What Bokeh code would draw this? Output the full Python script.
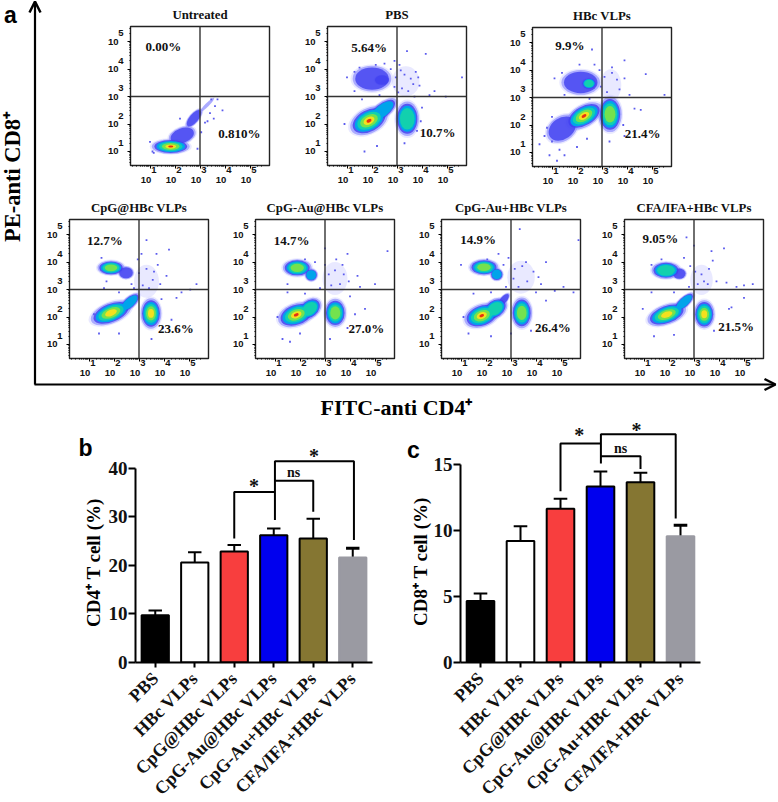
from math import pi, radians, log10
from bokeh.embed import file_html
from bokeh.models import Arrow, Column, FixedTicker, OpenHead, Range1d, Span
from bokeh.plotting import figure
from bokeh.resources import INLINE
from bokeh.core.properties import value

SERIF = "Liberation Serif"
SANS = "Liberation Sans"

# ---- flow-cytometry panels -------------------------------------------------
panel_names = ["Untreated", "PBS", "HBc VLPs", "CpG@HBc VLPs", "CpG-Au@HBc VLPs", "CpG-Au+HBc VLPs", "CFA/IFA+HBc VLPs"]
panel_frames = [(130, 25), (327, 25), (532, 26), (69, 218), (255, 218), (441, 218), (624, 218)]
upper_left_pct = ["0.00%", "5.64%", "9.9%", "12.7%", "14.7%", "14.9%", "9.05%"]
lower_right_pct = ["0.810%", "10.7%", "21.4%", "23.6%", "27.0%", "26.4%", "21.5%"]
upper_left_pos = [(1.53, 4.84), (1.88, 4.78), (1.71, 4.88), (1.63, 4.77), (1.66, 4.78), (1.68, 4.82), (1.65, 4.85)]
lower_right_pos = [(4.57, 1.64), (4.62, 1.69), (4.62, 1.68), (4.47, 1.57), (4.65, 1.59), (4.67, 1.63), (4.68, 1.64)]

# density blobs: log10 x, log10 y, semi-axis a, semi-axis b, angle, peak colour level
untreated_blobs = [(1.83, 1.18, .84, .30, 0, 7), (2.29, 1.58, .62, .34, 20, 2), (2.76, 2.21, .52, .20, 50, 2), (3.29, 2.70, .42, .07, 45, 1)]
pbs_blobs = [(2.0, 3.65, .86, .52, 0, 2), (2.4, 3.6, .36, .22, 0, 2), (3.35, 3.55, .55, .55, 0, 0), (2.40, 2.48, .80, .32, 38, 3),
             (1.88, 2.12, .90, .50, 28, 7), (3.41, 2.19, .52, .70, 0, 4)]
hbc_blobs = [(2.15, 3.55, .86, .50, 0, 2), (2.48, 3.51, .34, .24, 0, 4), (3.35, 3.45, .42, .58, 0, 0), (1.41, 1.87, .76, .50, 35, 2),
             (2.28, 2.33, .88, .44, 30, 7), (3.32, 2.39, .52, .72, 0, 5)]
cpg_blobs = [(1.88, 3.79, .60, .30, 0, 5), (2.48, 3.61, .35, .26, 0, 2), (3.3, 3.3, .5, .6, 0, 0), (2.62, 2.52, .58, .24, 42, 3),
             (1.88, 2.15, .95, .42, 22, 6), (3.48, 2.13, .46, .62, 0, 6)]
au_at_blobs = [(1.89, 3.79, .64, .35, 0, 5), (2.45, 3.53, .29, .26, 0, 3), (3.4, 3.4, .5, .6, 0, 0), (2.39, 2.30, .58, .38, 40, 4),
               (1.85, 2.08, .84, .46, 20, 7), (3.41, 2.15, .48, .57, 0, 5)]
au_plus_blobs = [(1.92, 3.81, .64, .33, 0, 5), (2.43, 3.55, .29, .26, 0, 3), (3.4, 3.45, .55, .6, 0, 0), (2.70, 2.62, .38, .15, 50, 2),
                 (2.36, 2.30, .60, .38, 35, 4), (1.83, 2.05, .80, .46, 20, 7), (3.43, 2.15, .46, .62, 0, 5)]
cfa_blobs = [(1.88, 3.70, .64, .35, 0, 4), (2.41, 3.58, .32, .24, 0, 2), (3.3, 3.35, .45, .55, 0, 0), (2.60, 2.54, .58, .22, 42, 3),
             (1.91, 2.09, .90, .40, 20, 6), (3.41, 2.10, .46, .57, 0, 6)]
panel_blobs = [untreated_blobs, pbs_blobs, hbc_blobs, cpg_blobs, au_at_blobs, au_plus_blobs, cfa_blobs]

# scattered events (log10 x, log10 y)
untreated_dots = [(3.4, 2.4), (3.7, 2.9), (3.9, 2.5), (3.55, 2.2), (3.2, 2.05), (1.1, 1.0), (2.9, 1.1), (3.05, 1.7), (3.6, 2.65), (2.2, 2.2), (3.45, 2.9), (3.3, 2.1), (1.0, 1.35), (1.15, 0.95)]
pbs_dots = [(3.4, 4.65), (4.15, 4.55), (4.5, 3.2), (5.6, 3.7), (4.95, 3.0), (3.9, 3.4), (3.75, 3.9), (2.9, 4.3), (2.5, 4.2), (1.3, 3.9), (1.0, 3.7),
            (3.1, 4.15), (4.0, 2.6), (3.95, 2.1), (3.8, 1.75), (3.3, 1.3), (2.2, 1.2), (1.7, 1.0), (0.9, 2.0), (4.3, 3.05), (1.3, 3.2), (1.6, 2.9), (2.3, 3.05), (3.7, 3.0),
            (2.95, 3.7), (3.15, 3.95), (3.3, 3.8), (3.55, 3.65), (3.2, 3.3), (3.45, 3.2), (3.65, 3.45), (3.05, 3.15), (2.9, 3.35), (3.85, 3.7), (1.5, 4.05), (2.15, 4.15), (2.75, 4.0)]
hbc_dots = [(2.6, 4.75), (3.9, 4.35), (4.75, 3.85), (5.5, 3.1), (4.3, 2.6), (4.55, 2.55), (3.9, 3.7), (3.4, 4.1), (2.7, 4.2), (1.1, 3.7), (1.5, 3.1), (0.5, 1.3), (0.9, 0.9),
            (1.0, 1.4), (1.3, 1.1), (1.5, 0.9), (2.0, 1.2), (3.9, 1.6), (3.3, 1.4), (0.8, 1.9), (1.0, 2.3), (3.85, 2.0), (4.1, 3.1), (2.5, 2.95),
            (3.1, 3.75), (3.4, 3.9), (3.6, 3.65), (3.2, 3.2), (2.95, 3.4), (3.7, 3.3), (2.9, 4.0), (2.1, 4.2), (1.4, 3.9), (0.7, 1.6), (1.2, 0.7), (2.4, 1.5)]
cpg_dots = [(3.3, 4.8), (4.2, 4.45), (5.3, 3.2), (5.05, 3.0), (4.7, 2.9), (4.1, 3.5), (3.7, 4.3), (2.95, 4.1), (3.1, 4.3), (1.6, 3.05), (2.2, 2.9), (3.9, 2.65),
            (4.5, 2.7), (4.3, 1.9), (3.5, 1.2), (2.2, 1.4), (1.4, 1.4), (1.2, 2.1), (3.95, 1.6), (3.6, 3.65), (2.8, 3.05),
            (3.0, 3.6), (3.3, 3.75), (3.55, 3.35), (3.85, 3.2), (3.15, 3.15), (3.4, 3.05), (3.75, 3.9), (1.7, 3.3), (2.7, 3.2), (1.5, 4.15)]
au_at_dots = [(3.45, 4.1), (3.7, 3.9), (4.4, 3.1), (5.0, 3.2), (5.5, 4.4), (4.3, 3.5), (4.0, 2.75), (4.2, 2.1), (3.2, 1.2), (1.3, 1.2), (2.0, 1.4), (1.5, 2.9), (2.2, 2.85),
              (2.8, 3.05), (2.6, 4.0), (3.0, 3.9), (1.1, 2.0), (4.6, 2.3), (3.9, 1.6), (3.9, 4.3), (1.6, 1.1), (3.0, 4.5),
              (3.15, 3.55), (3.4, 3.7), (3.75, 3.55), (3.95, 3.3), (3.6, 3.2), (3.25, 3.15), (2.2, 4.1), (1.5, 3.2)]
au_plus_dots = [(3.35, 5.2), (2.5, 4.3), (2.7, 3.9), (3.6, 4.0), (4.4, 4.0), (4.2, 3.2), (5.1, 3.1), (5.5, 2.9), (4.4, 2.6), (4.0, 2.9), (3.8, 1.5), (3.0, 1.4), (2.2, 1.3),
                (1.3, 1.4), (1.1, 2.0), (1.5, 2.85), (2.2, 2.9), (2.8, 3.1), (1.0, 3.9), (5.7, 4.8), (4.75, 2.95), (3.1, 3.4),
                (3.15, 3.75), (3.45, 3.85), (3.9, 3.65), (4.1, 3.45), (3.65, 3.3), (3.3, 3.1), (2.9, 4.15), (2.05, 4.1)]
cfa_dots = [(2.7, 4.9), (3.0, 4.6), (3.7, 4.4), (3.75, 4.05), (4.2, 4.5), (4.3, 3.25), (5.35, 3.2), (5.0, 2.7), (4.4, 2.3), (3.8, 1.5), (2.2, 1.35), (1.4, 1.3), (0.95, 2.3),
            (1.3, 2.9), (2.2, 2.9), (2.8, 3.1), (3.4, 3.3), (3.9, 3.3), (1.3, 3.9), (4.7, 3.1), (5.0, 3.15), (4.5, 2.35),
            (3.05, 3.65), (3.3, 3.55), (3.6, 3.75), (3.55, 3.2), (3.15, 3.2), (2.6, 4.15), (1.7, 4.1), (2.85, 3.85)]
panel_dots = [untreated_dots, pbs_dots, hbc_dots, cpg_dots, au_at_dots, au_plus_dots, cfa_dots]

decades = [1, 2, 3, 4, 5]
decade_labels = {d: "10\u00a0\u00a0\u00a0" for d in decades}
level_colors = ["#cfcfff", "#9090ff", "#4040f0", "#00a4ea", "#12d0ae", "#74e24e", "#f4e01e", "#e63010"]
level_alpha = [0.45, 0.7, 0.8, 1, 1, 1, 1, 1]
level_scale = [1.0, .90, .78, .68, .56, .42, .26, .12]

# ---- bar charts ------------------------------------------------------------
categories = ["PBS", "HBc VLPs", "CpG@HBc VLPs", "CpG-Au@HBc VLPs", "CpG-Au+HBc VLPs", "CFA/IFA+HBc VLPs"]
bar_colors = ["#000000", "#ffffff", "#f83e3e", "#0000ee", "#857632", "#9a9aa2"]
bar_lines = ["#000000", "#000000", "#000000", "#000000", "#000000", "#9a9aa2"]
cd4_values = [9.7, 20.6, 22.85, 26.2, 25.5, 21.6]
cd4_errors = [10.7, 22.7, 24.2, 27.6, 29.6, 23.5]
cd8_values = [4.65, 9.2, 11.64, 13.33, 13.66, 9.57]
cd8_errors = [5.23, 10.33, 12.4, 14.47, 14.37, 10.4]
cd4_brackets_x = [[3.03, 3.03, 5.03, 5.03], [3.03, 4.0, 4.0], [2.0, 2.0, 3.03]]
cd4_brackets_y = [[29.3, 41.4, 41.4, 25.2], [37.4, 37.4, 31.0], [25.5, 35.1, 35.1]]
cd4_marks = [("*", 4.02, 42.4), ("ns", 3.5, 39.0), ("*", 2.5, 36.3)]
cd8_brackets_x = [[3.01, 3.01, 4.88, 4.88], [3.01, 4.0, 4.0], [2.0, 2.0, 3.01]]
cd8_brackets_y = [[15.08, 17.3, 17.3, 10.9], [15.63, 15.63, 14.65], [12.98, 16.6, 16.6]]
cd8_marks = [("*", 3.9, 17.65), ("ns", 3.5, 16.2), ("*", 2.47, 17.2)]


def pct_text(p, pos, txt):
    p.text([pos[0]], [pos[1]], text=[txt], text_font=value(SERIF), text_font_style="bold",
           text_font_size="13px", text_align="center", text_baseline="middle", text_color="#111111")


def flow_panel(i):
    left, top = panel_frames[i]
    p = figure(title=panel_names[i], frame_width=139, frame_height=139, x_range=Range1d(0.22, 5.78), y_range=Range1d(0.49, 5.55),
               toolbar_location=None, output_backend="svg", min_border_left=40, min_border_right=4, min_border_top=24, min_border_bottom=30,
               border_fill_color=None, background_fill_color="white", outline_line_color="#222222", outline_line_width=1.4, frame_align=False)
    p.styles = {"position": "absolute", "left": f"{left - 40}px", "top": f"{top - 24}px"}
    p.title.align = "center"
    p.title.text_font = SERIF
    p.title.text_font_size = "12.8px"
    p.title.text_font_style = "bold"
    p.title.text_color = "#111111"
    p.title.standoff = 9
    p.grid.visible = False
    minors = [d + log10(k) for d in range(0, 6) for k in range(2, 10)]
    for ax, standoff in ((p.xaxis[0], 5), (p.yaxis[0], 9)):
        ax.ticker = FixedTicker(ticks=decades, minor_ticks=[m for m in minors if 0.22 < m < 5.55])
        ax.major_label_text_font = SANS
        ax.major_label_text_font_style = "bold"
        ax.major_label_text_font_size = "9.5px"
        ax.major_label_text_color = "#111111"
        ax.major_tick_in = 0
        ax.major_tick_out = 3
        ax.minor_tick_in = 0
        ax.minor_tick_out = 1
        ax.major_label_standoff = standoff
        ax.axis_line_color = "#222222"
    p.xaxis[0].major_label_overrides = decade_labels
    p.yaxis[0].major_label_overrides = {d: "10" for d in decades}
    blobs = panel_blobs[i]
    dots = panel_dots[i]
    for lvl in range(8):
        rows = [b for b in blobs if b[5] >= lvl]
        if rows:
            p.ellipse([r[0] for r in rows], [r[1] for r in rows],
                      width=[2 * r[2] * level_scale[lvl] for r in rows], height=[2 * r[3] * level_scale[lvl] for r in rows],
                      angle=[radians(r[4]) for r in rows], fill_color=level_colors[lvl], line_color=None,
                      fill_alpha=level_alpha[lvl])
    p.scatter([d[0] for d in dots], [d[1] for d in dots], size=1.8, marker="square", color="#5a5aee", line_color=None)
    p.add_layout(Span(location=3, dimension="height", line_color="#333333", line_width=1.4))
    p.add_layout(Span(location=3, dimension="width", line_color="#333333", line_width=1.4))
    pct_text(p, upper_left_pos[i], upper_left_pct[i])
    pct_text(p, lower_right_pos[i], lower_right_pct[i])
    return p


def bar_panel(left, top, fw, fh, ymax, bound, ticks, vals, errs, bx, by, marks, border):
    p = figure(frame_width=fw, frame_height=fh, x_range=Range1d(-0.5, 5.5), y_range=Range1d(0, ymax), toolbar_location=None,
               output_backend="svg", min_border_left=border, min_border_right=2, min_border_top=0, min_border_bottom=140,
               border_fill_color=None, background_fill_color=None, outline_line_color=None, frame_align=False)
    p.styles = {"position": "absolute", "left": f"{left - border}px", "top": f"{top}px"}
    p.grid.visible = False
    idx = list(range(len(categories)))
    p.segment(idx, vals, idx, errs, line_color="#000000", line_width=2)
    for i in idx:
        p.segment(i - 0.17, errs[i], i + 0.17, errs[i], line_color="#000000", line_width=3 if i == 5 else 2)
    p.vbar(x=idx, top=vals, bottom=0, width=0.69, fill_color=bar_colors, line_color=bar_lines, line_width=2)
    p.multi_line(bx, by, line_color="#000000", line_width=2)
    for t, x, y in marks:
        p.text([x], [y], text=[t], text_font=value(SERIF), text_font_style="bold",
               text_font_size="20px" if t == "*" else "14px", text_align="center", text_baseline="middle", text_color="#111111")
    xa, ya = p.xaxis[0], p.yaxis[0]
    xa.ticker = FixedTicker(ticks=idx)
    xa.major_label_overrides = dict(zip(idx, categories))
    xa.major_label_orientation = pi / 4
    xa.major_label_text_font = SERIF
    xa.major_label_text_font_style = "bold"
    xa.major_label_text_font_size = "18px"
    xa.major_label_text_color = "#111111"
    xa.major_label_standoff = 8
    xa.major_tick_in = 0
    xa.major_tick_out = 5
    xa.major_tick_line_width = 2
    xa.axis_line_width = 2
    xa.minor_tick_line_color = None
    ya.ticker = FixedTicker(ticks=ticks)
    ya.bounds = (0, bound)
    ya.major_label_text_font = SERIF
    ya.major_label_text_font_style = "bold"
    ya.major_label_text_font_size = "19px"
    ya.major_label_text_color = "#111111"
    ya.major_label_standoff = 1
    ya.major_tick_in = 0
    ya.major_tick_out = 7
    ya.major_tick_line_width = 2
    ya.axis_line_width = 2
    ya.minor_tick_line_color = None
    return p


bg = figure(width=778, height=802, x_range=Range1d(0, 778), y_range=Range1d(802, 0), toolbar_location=None, output_backend="svg",
            x_axis_location=None, y_axis_location=None, min_border=0, outline_line_color=None, background_fill_color=None, border_fill_color=None, frame_align=False)
bg.styles = {"position": "absolute", "left": "0px", "top": "0px"}
bg.grid.visible = False
bg.add_layout(Arrow(end=OpenHead(size=11, line_width=2.5), x_start=34.5, y_start=384, x_end=34.5, y_end=1, line_width=2.2))
bg.add_layout(Arrow(end=OpenHead(size=11, line_width=2.5), x_start=34, y_start=384, x_end=775, y_end=384, line_width=2.2))
for txt, x, y, ang, size, font in [("PE-anti CD8\u207a", 12, 176, pi / 2, "22.5px", SERIF), ("FITC-anti CD4\u207a", 396, 407, 0, "22px", SERIF),
                                   ("CD4\u207a T cell (%)", 93, 562, pi / 2, "19px", SERIF), ("CD8\u207a T cell (%)", 420, 561, pi / 2, "19px", SERIF),
                                   ("a", 10, 14, 0, "23px", SANS), ("b", 85, 447, 0, "23px", SANS), ("c", 413, 449, 0, "23px", SANS)]:
    bg.text([x], [y], text=[txt], angle=ang, text_font=value(font), text_font_style="bold", text_font_size=size,
            text_align="center", text_baseline="middle", text_color="#000000")
# exponents of the decade tick labels, at each panel's tick positions
for left, top in panel_frames:
    for d in decades:
        tick_x = left + (d - 0.22) / 5.56 * 139
        tick_y = top + (5.55 - d) / 5.06 * 139
        bg.text([tick_x + 4, left - 9.5], [top + 144.5, tick_y - 7.5], text=[str(d), str(d)], text_font=value(SANS), text_font_style="bold",
                text_font_size="9.5px", text_align="center", text_baseline="middle", text_color="#111111")

panels = [flow_panel(i) for i in range(7)]
b = bar_panel(135, 425, 237, 237, 48.77, 40, [0, 10, 20, 30, 40], cd4_values, cd4_errors, cd4_brackets_x, cd4_brackets_y, cd4_marks, 40)
c = bar_panel(460, 405, 240, 257, 19.47, 15, [0, 5, 10, 15], cd8_values, cd8_errors, cd8_brackets_x, cd8_brackets_y, cd8_marks, 40)

page = Column(children=[bg] + panels + [b, c], width=778, height=802, sizing_mode="fixed",
              styles={"position": "absolute", "left": "0px", "top": "0px"})
open("out.html", "w").write(file_html(page, INLINE))
